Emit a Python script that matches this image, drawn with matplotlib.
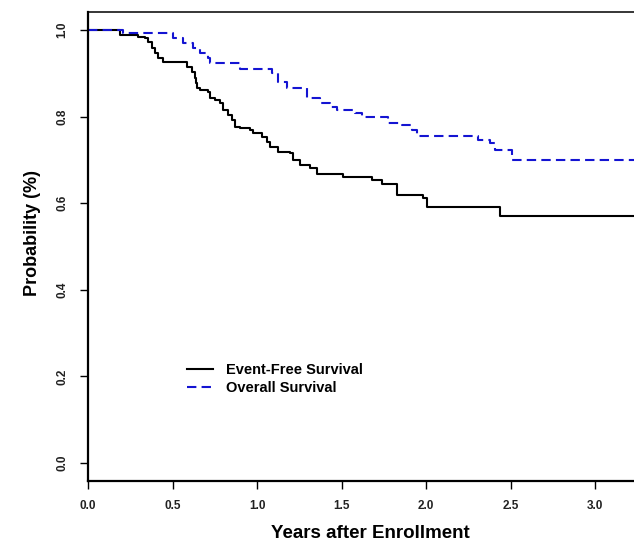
import numpy as np
import matplotlib
matplotlib.use("Agg")
import matplotlib.pyplot as plt

plt.rcParams['font.family'] = ['Liberation Sans', 'DejaVu Sans']

# event-free survival (step times in years, survival after each step)
efs_time = [0.0, 0.19, 0.296, 0.337, 0.355, 0.379, 0.396, 0.414, 0.444,
            0.586, 0.615, 0.633, 0.639, 0.645, 0.663, 0.710, 0.722, 0.751,
            0.781, 0.799, 0.828, 0.852, 0.870, 0.899, 0.959, 0.976, 1.030,
            1.059, 1.077, 1.124, 1.195, 1.213, 1.254, 1.314, 1.355, 1.509,
            1.680, 1.740, 1.828, 1.982, 2.006, 2.438, 3.30]
efs_surv = [1.0, 0.988, 0.984, 0.981, 0.972, 0.958, 0.947, 0.935, 0.925,
            0.915, 0.903, 0.889, 0.878, 0.866, 0.861, 0.857, 0.843, 0.838,
            0.831, 0.815, 0.804, 0.792, 0.776, 0.774, 0.769, 0.762, 0.753,
            0.741, 0.730, 0.718, 0.716, 0.700, 0.688, 0.681, 0.668, 0.661,
            0.654, 0.644, 0.619, 0.612, 0.591, 0.570, 0.570]

# overall survival
os_time = [0.0, 0.207, 0.503, 0.562, 0.621, 0.663, 0.710, 0.722, 0.899,
           1.089, 1.124, 1.178, 1.296, 1.373, 1.432, 1.473, 1.580, 1.620,
           1.775, 1.858, 1.917, 1.947, 2.308, 2.379, 2.408, 2.509, 3.30]
os_surv = [1.0, 0.993, 0.982, 0.970, 0.958, 0.947, 0.935, 0.924, 0.910,
           0.901, 0.880, 0.866, 0.843, 0.831, 0.822, 0.815, 0.808, 0.799,
           0.785, 0.781, 0.769, 0.755, 0.746, 0.739, 0.723, 0.700, 0.700]

xticks = [0.0, 0.5, 1.0, 1.5, 2.0, 2.5, 3.0]
yticks = [0.0, 0.2, 0.4, 0.6, 0.8, 1.0]

fig = plt.figure(figsize=(6.34, 5.42), dpi=100)
ax = fig.add_axes([88/634, 61/542, 546/634, 469/542])

ax.step(efs_time, efs_surv, where='post', color='black', lw=1.5,
        label='Event-Free Survival')
ax.step(os_time, os_surv, where='post', color='#1414d2', lw=1.5,
        dashes=(4.5, 2.5), label='Overall Survival')

ax.set_xlim(0, 546/169)
ax.set_ylim(-18/433, 451/433)

ax.set_xticks(xticks)
ax.set_xticklabels(['%.1f' % v for v in xticks], fontsize=8.5, fontweight='bold', color='#222222')
ax.set_yticks(yticks)
ax.set_yticklabels(['%.1f' % v for v in yticks], fontsize=8.5, fontweight='bold',
                   color='#222222', rotation=90, va='center')
ax.tick_params(axis='x', length=6, width=1, pad=8)
ax.tick_params(axis='y', length=6, width=1, pad=8)

ax.spines['right'].set_visible(False)
ax.spines['left'].set_linewidth(1.6)
ax.spines['bottom'].set_linewidth(1.6)
ax.spines['top'].set_linewidth(1.1)

ax.set_xlabel('Years after Enrollment', fontsize=13.5, fontweight='bold')
ax.xaxis.set_label_coords((370-88)/546, -44/469)
ax.set_ylabel('Probability (%)', fontsize=13, fontweight='bold')
ax.yaxis.set_label_coords(-47/546, 248/469)

leg = ax.legend(loc='upper left', bbox_to_anchor=((187-88)/546, (481-363)/469),
                frameon=False, fontsize=10.5, handlelength=1.8, handletextpad=0.9,
                labelspacing=0.25, borderpad=0, borderaxespad=0)
for t in leg.get_texts():
    t.set_fontweight('bold')

fig.savefig('out.png', dpi=100)
